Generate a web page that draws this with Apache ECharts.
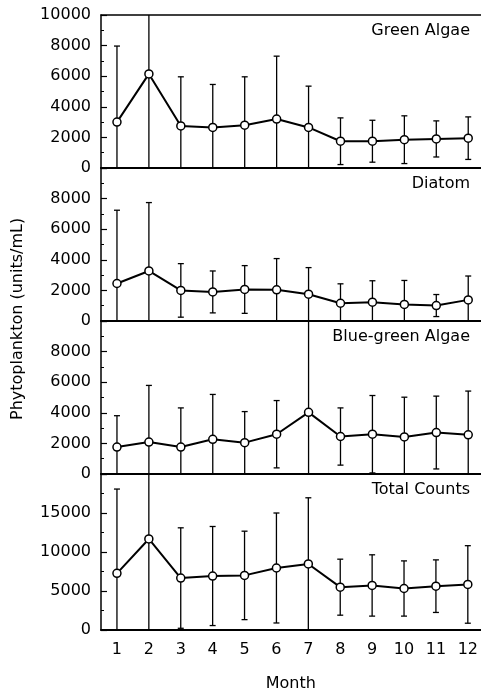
<!DOCTYPE html>
<html>
<head>
<meta charset="utf-8">
<script src="https://cdn.jsdelivr.net/npm/echarts@6/dist/echarts.min.js"></script>
<style>
  html,body{margin:0;padding:0;background:#fff;}
  #chart{width:481px;height:694px;}
</style>
</head>
<body>
<div id="chart"></div>
<script>
  // months on the x axis
  var months = [1, 2, 3, 4, 5, 6, 7, 8, 9, 10, 11, 12];

  // mean values and the error bar half length
  var greenMean = [3000, 6150, 2750, 2650, 2800, 3200, 2650, 1750, 1750, 1850, 1900, 1950];
  var greenErr  = [4970, 7000, 3210, 2810, 3160, 4110, 2700, 1525, 1370, 1560, 1180, 1390];

  var diatomMean = [2450, 3270, 2000, 1900, 2060, 2040, 1750, 1160, 1230, 1080, 1010, 1380];
  var diatomErr  = [4790, 4470, 1750, 1370, 1560, 2040, 1740, 1270, 1400, 1570, 720, 1560];

  var blueMean = [1760, 2090, 1760, 2270, 2050, 2600, 4030, 2450, 2600, 2420, 2710, 2560];
  var blueErr  = [2050, 3700, 2560, 2930, 2030, 2200, 6500, 1870, 2530, 2600, 2380, 2860];

  var totalMean = [7260, 11670, 6660, 6920, 7000, 7950, 8470, 5490, 5710, 5320, 5620, 5840];
  var totalErr  = [10810, 12000, 6440, 6350, 5670, 7050, 8480, 3590, 3930, 3540, 3370, 4970];

  var panelNames = ['Green Algae', 'Diatom', 'Blue-green Algae', 'Total Counts'];
  var yMax = [10000, 10000, 10000, 20000];
  var yStep = [2000, 2000, 2000, 5000];

  var font = 'DejaVu Sans';
  var panels = [
    {mean: greenMean, err: greenErr},
    {mean: diatomMean, err: diatomErr},
    {mean: blueMean, err: blueErr},
    {mean: totalMean, err: totalErr}
  ];
  var gridTop = [15, 168, 321, 474];
  var gridH = [153, 153, 153, 156];

  var grids = [], xAxes = [], yAxes = [], series = [], texts = [];

  panels.forEach(function (p, i) {
    grids.push({left: 101, right: 0, top: gridTop[i], height: gridH[i]});
    var last = i == panels.length - 1;
    xAxes.push({
      type: 'value', gridIndex: i, min: 0.5, max: 12.4, interval: 0.5,
      splitLine: {show: false},
      axisLine: {show: true, onZero: false, lineStyle: {color: '#000', width: 2}},
      axisTick: {show: false},
      axisLabel: {
        show: last, color: '#000', fontFamily: font, fontSize: 16, margin: 12,
        showMinLabel: false, showMaxLabel: false,
        formatter: function (v) { return months.indexOf(v) >= 0 ? String(v) : ''; }
      },
      name: last ? 'Month' : '', nameLocation: 'middle', nameGap: 46,
      nameTextStyle: {color: '#000', fontFamily: font, fontSize: 16}
    });
    yAxes.push({
      type: 'value', gridIndex: i, min: 0, max: yMax[i], interval: yStep[i],
      splitLine: {show: false},
      axisLine: {show: true, lineStyle: {color: '#000', width: 1.5}},
      axisTick: {show: true, inside: true, length: 6, lineStyle: {color: '#000', width: 1.2}},
      minorTick: {show: true, splitNumber: 2, length: 3, lineStyle: {color: '#000', width: 1}},
      axisLabel: {
        color: '#000', fontFamily: font, fontSize: 16, margin: 10, showMaxLabel: i == 0,
        formatter: function (v) { return String(v); }
      }
    });

    var pts = [], bars = [];
    months.forEach(function (m, k) {
      pts.push([m, p.mean[k]]);
      bars.push([m, p.mean[k], p.err[k]]);
    });

    series.push({
      type: 'custom', xAxisIndex: i, yAxisIndex: i, z: 1,
      renderItem: function (params, api) {
        var cs = params.coordSys;
        var x = api.coord([api.value(0), 0])[0];
        var yTop = api.coord([0, api.value(1) + api.value(2)])[1];
        var yBot = api.coord([0, api.value(1) - api.value(2)])[1];
        var kids = [];
        var top = Math.max(yTop, cs.y), bot = Math.min(yBot, cs.y + cs.height);
        var st = {stroke: '#000', lineWidth: 1.3};
        kids.push({type: 'line', shape: {x1: x, y1: top, x2: x, y2: bot}, style: st});
        if (yTop > cs.y) kids.push({type: 'line', shape: {x1: x - 3, y1: yTop, x2: x + 3, y2: yTop}, style: st});
        if (yBot < cs.y + cs.height) kids.push({type: 'line', shape: {x1: x - 3, y1: yBot, x2: x + 3, y2: yBot}, style: st});
        return {type: 'group', children: kids};
      },
      data: bars
    });
    series.push({
      type: 'line', xAxisIndex: i, yAxisIndex: i, z: 3,
      symbol: 'circle', symbolSize: 8,
      lineStyle: {color: '#000', width: 2},
      itemStyle: {color: '#fff', borderColor: '#000', borderWidth: 1.5},
      data: pts
    });

    texts.push({
      type: 'text', right: 11, top: gridTop[i] + 8,
      style: {text: panelNames[i], fill: '#000', font: '16px "DejaVu Sans"'}
    });
  });

  // top border of the first panel
  xAxes.push({
    type: 'value', gridIndex: 0, position: 'top', min: 0.5, max: 12.4,
    splitLine: {show: false}, axisTick: {show: false}, axisLabel: {show: false},
    axisLine: {show: true, onZero: false, lineStyle: {color: '#000', width: 1.5}}
  });

  texts.push({
    type: 'text', x: 10, y: 420, rotation: Math.PI / 2,
    style: {text: 'Phytoplankton (units/mL)', fill: '#000', font: '16px "DejaVu Sans"'}
  });

  var chart = echarts.init(document.getElementById('chart'));
  chart.setOption({
    animation: false,
    grid: grids,
    xAxis: xAxes,
    yAxis: yAxes,
    graphic: texts,
    series: series
  });
</script>
</body>
</html>
